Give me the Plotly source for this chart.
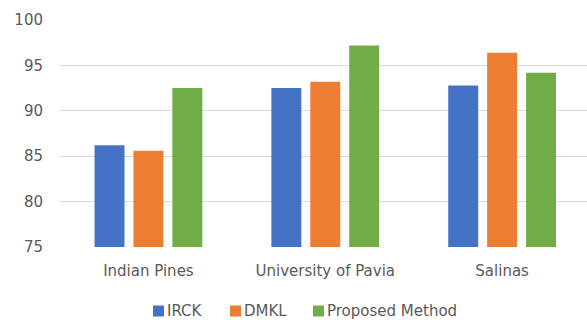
import plotly.graph_objects as go

# Overall accuracy (%) per dataset for each method
datasets = ["Indian Pines", "University of Pavia", "Salinas"]
irck = [86.2, 92.5, 92.8]
dmkl = [85.6, 93.2, 96.4]
proposed = [92.5, 97.2, 94.2]

series_names = ["IRCK", "DMKL", "Proposed Method"]
series_values = [irck, dmkl, proposed]
series_colors = ["#4472C4", "#ED7D31", "#70AD47"]

W, H = 587, 320
M_L, M_R, M_T, M_B = 60, 0, 20, 73
TEXT = "#595959"
FONT = "'DejaVu Sans', sans-serif"

fig = go.Figure()
for name, vals, color in zip(series_names, series_values, series_colors):
    fig.add_trace(go.Bar(x=datasets, y=vals, name=name, marker_color=color,
                         marker_line_width=0, showlegend=False))


def px_to_paper(px, py):
    """Convert figure pixel position to paper coordinates of the plot area."""
    return ((px - M_L) / (W - M_L - M_R),
            (H - M_B - py) / (H - M_T - M_B))


# Compact legend row under the axis: small square swatch followed by label
legend_left = [153, 230, 313]
sw, legend_cy = 11, 311
for left, name, color in zip(legend_left, series_names, series_colors):
    x0, y0 = px_to_paper(left, legend_cy + sw / 2)
    x1, y1 = px_to_paper(left + sw, legend_cy - sw / 2)
    fig.add_shape(type="rect", xref="paper", yref="paper",
                  x0=x0, x1=x1, y0=y0, y1=y1,
                  fillcolor=color, line_width=0)
    tx, ty = px_to_paper(left + sw + 2, legend_cy)
    fig.add_annotation(xref="paper", yref="paper", x=tx, y=ty,
                       xanchor="left", yanchor="middle", text=name,
                       showarrow=False, borderpad=0,
                       font=dict(size=15, color=TEXT, family=FONT))

fig.update_layout(
    width=W, height=H,
    margin=dict(l=M_L, r=M_R, t=M_T, b=M_B, autoexpand=False),
    paper_bgcolor="white", plot_bgcolor="white",
    barmode="group", bargap=0.34, bargroupgap=0.23,
    font=dict(family=FONT, size=15, color=TEXT),
    showlegend=False,
    xaxis=dict(range=[-0.5, 2.48], showgrid=False, showline=False,
               ticks="", ticklabelstandoff=13,
               tickfont=dict(size=15, color=TEXT)),
    yaxis=dict(range=[75, 100], dtick=5, showgrid=True, gridcolor="#d9d9d9",
               gridwidth=1, zeroline=False, showline=False, ticks="",
               ticklabelstandoff=16, tickfont=dict(size=15, color=TEXT)),
)

fig.write_html("out.html")
